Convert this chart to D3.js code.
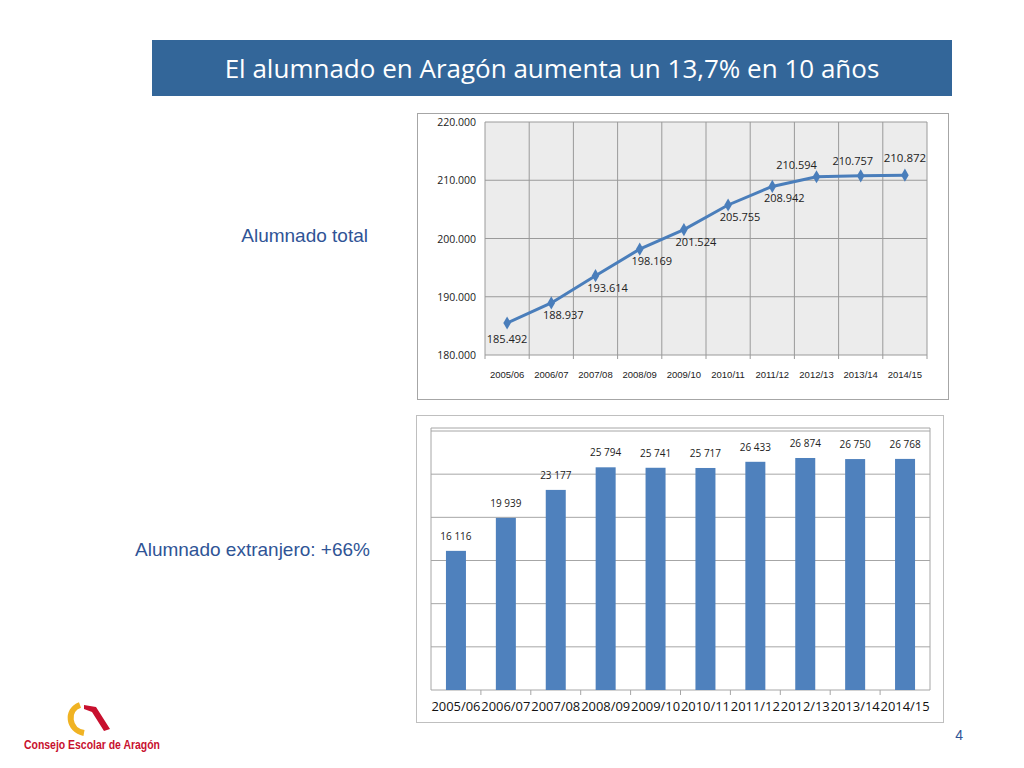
<!DOCTYPE html><html><head><meta charset="utf-8"><script src="https://cdn.jsdelivr.net/npm/d3@7"></script>
<style>body{margin:0;background:#fff}</style></head><body><svg id="c" width="1024" height="768"></svg>
<script>
const categories=["2005/06","2006/07","2007/08","2008/09","2009/10","2010/11","2011/12","2012/13","2013/14","2014/15"];
const totalValues=[185492,188937,193614,198169,201524,205755,208942,210594,210757,210872];
const totalLabels=["185.492","188.937","193.614","198.169","201.524","205.755","208.942","210.594","210.757","210.872"];
const foreignValues=[16116,19939,23177,25794,25741,25717,26433,26874,26750,26768];
const foreignLabels=["16 116","19 939","23 177","25 794","25 741","25 717","26 433","26 874","26 750","26 768"];
const totalTicks=[180000,190000,200000,210000,220000];
const tickLabels=["180.000","190.000","200.000","210.000","220.000"];
const svg=d3.select("#c");
svg.append("rect").attr("x",152).attr("y",40).attr("width",800).attr("height",56).attr("fill","#336699");
svg.append("text").attr("x",552).attr("y",78).attr("text-anchor","middle").attr("fill","#fff").attr("font-family","Open Sans, Calibri, sans-serif").attr("font-size",26).text("El alumnado en Aragón aumenta un 13,7% en 10 años");
svg.append("text").attr("x",368).attr("y",242).attr("text-anchor","end").attr("fill","#2f5496").attr("font-family","Liberation Sans, Arial").attr("font-size",19).text("Alumnado total");
svg.append("text").attr("x",370).attr("y",556).attr("text-anchor","end").attr("fill","#2f5496").attr("font-family","Liberation Sans, Arial").attr("font-size",19).text("Alumnado extranjero: +66%");
svg.append("text").attr("x",963).attr("y",740).attr("text-anchor","end").attr("fill","#2f5496").attr("font-family","Liberation Sans, Arial").attr("font-size",14).text("4");
// logo
const lg=svg.append("g");
lg.append("path").attr("d","M80,705 C66,710 68,730 84,733").attr("fill","none").attr("stroke","#f0b323").attr("stroke-width",6);
lg.append("path").attr("d","M84,705 L96,707 L110,729 L104,731 L92,712 L84,709Z").attr("fill","#c8102e");
lg.append("text").attr("x",24).attr("y",749).attr("fill","#c8102e").attr("font-family","Liberation Sans Narrow, Arial Narrow, sans-serif").attr("font-weight","bold").attr("font-size",12).attr("textLength",136).attr("lengthAdjust","spacingAndGlyphs").text("Consejo Escolar de Aragón");
// top chart
svg.append("rect").attr("x",417.5).attr("y",113.5).attr("width",531).attr("height",286).attr("fill","#fff").attr("stroke","#a6a6a6");
const x1=d3.scaleBand().domain(categories).range([485,927]);
const y1=d3.scaleLinear().domain([180000,220000]).range([355,122]);
svg.append("rect").attr("x",485).attr("y",122).attr("width",442).attr("height",233).attr("fill","#ececec");
const g1=svg.append("g");
totalTicks.forEach(t=>g1.append("line").attr("x1",485).attr("x2",927).attr("y1",y1(t)).attr("y2",y1(t)).attr("stroke","#9a9a9a"));
categories.forEach((c,i)=>{if(i>0)g1.append("line").attr("x1",x1(c)).attr("x2",x1(c)).attr("y1",122).attr("y2",359).attr("stroke","#9a9a9a");});
g1.append("line").attr("x1",927).attr("x2",927).attr("y1",122).attr("y2",359).attr("stroke","#9a9a9a");
g1.append("line").attr("x1",485).attr("x2",485).attr("y1",122).attr("y2",359).attr("stroke","#9a9a9a");
totalTicks.forEach((t,i)=>g1.append("text").attr("x",476).attr("y",y1(t)+4).attr("text-anchor","end").attr("font-family","Open Sans, sans-serif").attr("font-size",10.5).attr("fill","#222").text(tickLabels[i]));
categories.forEach(c=>g1.append("text").attr("x",x1(c)+x1.bandwidth()/2).attr("y",378).attr("text-anchor","middle").attr("font-family","Liberation Sans, Arial").attr("font-size",9.5).attr("fill","#222").text(c));
const cx=c=>x1(c)+x1.bandwidth()/2;
g1.append("path").datum(totalValues).attr("d",d3.line().x((d,i)=>cx(categories[i])).y(d=>y1(d))).attr("fill","none").attr("stroke","#4a7ebb").attr("stroke-width",3);
totalValues.forEach((v,i)=>g1.append("path").attr("d",d3.symbol(d3.symbolDiamond,50)()).attr("transform",`translate(${cx(categories[i])},${y1(v)})`).attr("fill","#4a7ebb"));
const off=[[0,20],[12,16],[12,16],[12,16],[12,16],[12,16],[12,16],[-20,-8],[-8,-11],[0,-13]];
totalValues.forEach((v,i)=>g1.append("text").attr("x",cx(categories[i])+off[i][0]).attr("y",y1(v)+off[i][1]).attr("text-anchor","middle").attr("font-family","Open Sans, sans-serif").attr("font-size",i==9?11.5:11).attr("fill","#222").text(totalLabels[i]));
// bottom chart
svg.append("rect").attr("x",416.5).attr("y",415.5).attr("width",527).attr("height",307).attr("fill","#fff").attr("stroke","#bfbfbf");
const x2=d3.scaleBand().domain(categories).range([431,930]);
const y2=d3.scaleLinear().domain([0,30000]).range([690,431]);
const g2=svg.append("g");
d3.range(0,30001,5000).forEach(t=>g2.append("line").attr("x1",431).attr("x2",930).attr("y1",y2(t)).attr("y2",y2(t)).attr("stroke","#a6a6a6"));
g2.append("line").attr("x1",431).attr("x2",431).attr("y1",428).attr("y2",690).attr("stroke","#a6a6a6");
g2.append("line").attr("x1",930).attr("x2",930).attr("y1",428).attr("y2",690).attr("stroke","#a6a6a6");
g2.append("line").attr("x1",431).attr("x2",930).attr("y1",428).attr("y2",428).attr("stroke","#a6a6a6");
categories.forEach((c,i)=>{if(i>0)g2.append("line").attr("x1",x2(c)).attr("x2",x2(c)).attr("y1",690).attr("y2",695).attr("stroke","#a6a6a6");});
const bw=20;
g2.selectAll("rect.b").data(foreignValues).enter().append("rect").attr("x",(d,i)=>x2(categories[i])+x2.bandwidth()/2-bw/2).attr("y",d=>y2(d)).attr("width",bw).attr("height",d=>690-y2(d)).attr("fill","#4f81bd");
foreignValues.forEach((v,i)=>g2.append("text").attr("x",x2(categories[i])+x2.bandwidth()/2).attr("y",y2(v)-11).attr("text-anchor","middle").attr("font-family","Open Sans, sans-serif").attr("font-size",10).attr("fill","#222").text(foreignLabels[i]));
categories.forEach(c=>g2.append("text").attr("x",x2(c)+x2.bandwidth()/2).attr("y",711).attr("text-anchor","middle").attr("font-family","Open Sans, sans-serif").attr("font-size",12.5).attr("textLength",49).attr("lengthAdjust","spacingAndGlyphs").attr("fill","#111").text(c));
</script></body></html>
